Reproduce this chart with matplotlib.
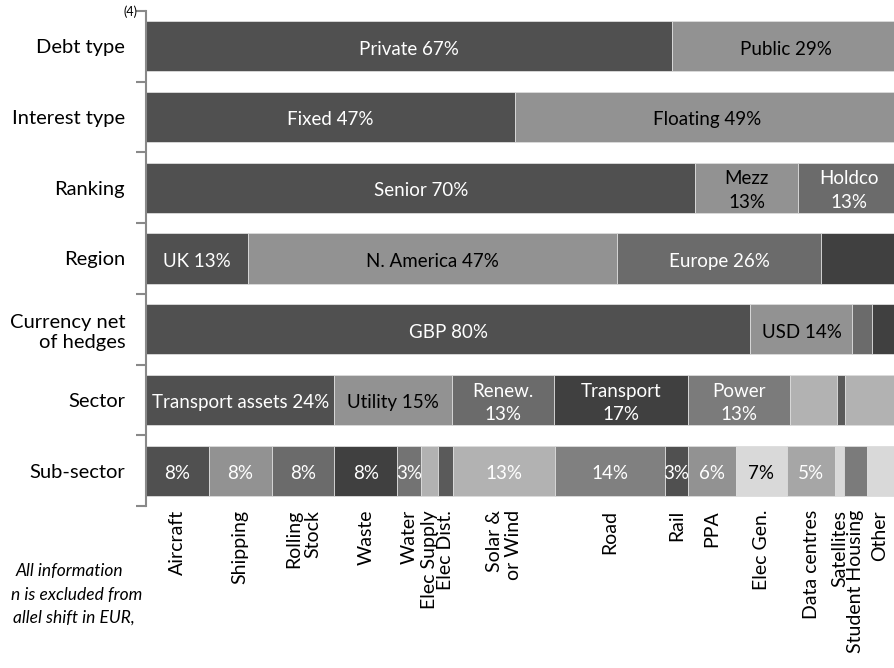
import matplotlib.pyplot as plt
import numpy as np

plt.rcParams['font.family'] = ['Lato', 'DejaVu Sans']

# rows, top to bottom
rows = ['Debt type', 'Interest type', 'Ranking', 'Region',
        'Currency net\nof hedges', 'Sector', 'Sub-sector']

debt_vals = [67, 29, 4]
debt_labels = ['Private 67%', 'Public 29%', '']

interest_vals = [47, 49, 4]
interest_labels = ['Fixed 47%', 'Floating 49%', '']

ranking_vals = [70, 13, 13, 4]
ranking_labels = ['Senior 70%', 'Mezz\n13%', 'Holdco\n13%', '']

region_vals = [13, 47, 26, 14]
region_labels = ['UK 13%', 'N. America 47%', 'Europe 26%', '']

currency_vals = [77, 13, 2.5, 7.5]
currency_labels = ['GBP 80%', 'USD 14%', '', '']

sector_vals = [24, 15, 13, 17, 13, 6, 1, 11]
sector_labels = ['Transport assets 24%', 'Utility 15%', 'Renew.\n13%', 'Transport\n17%',
                 'Power\n13%', '', '', '']

sub_vals = [8, 8, 8, 8, 3, 2.2, 1.9, 13, 14, 3, 6, 6.6, 6.1, 1.1, 3, 8]
sub_labels = ['8%', '8%', '8%', '8%', '3%', '', '', '13%', '14%', '3%', '6%', '7%', '5%', '', '', '']
sub_names = ['Aircraft', 'Shipping', 'Rolling\nStock', 'Waste', 'Water', 'Elec Supply', 'Elec Dist.',
             'Solar &\nor Wind', 'Road', 'Rail', 'PPA', 'Elec Gen.', 'Data centres', 'Satellites',
             'Student Housing', 'Other']

# styles
D, M, G, K, P, L, X = '#505050', '#929292', '#6b6b6b', '#404040', '#7b7b7b', '#b2b2b2', '#d9d9d9'
colors = [
    [D, M, G],
    [D, M, G],
    [D, M, G, K],
    [D, M, G, K],
    [D, M, G, K],
    [D, M, G, K, P, L, '#5a5a5a', L],
    [D, M, G, K, '#737373', L, '#5a5a5a', L, '#808080', D, M, X, '#a6a6a6', X, P, X],
]
text_colors = [
    ['white', 'black', 'white'],
    ['white', 'black', 'white'],
    ['white', 'black', 'white', 'white'],
    ['white', 'black', 'white', 'white'],
    ['white', 'black', 'white', 'white'],
    ['white', 'black', 'white', 'white', 'white', 'white', 'white', 'white'],
    ['white'] * 11 + ['black'] + ['white'] * 4,
]

all_vals = [debt_vals, interest_vals, ranking_vals, region_vals, currency_vals, sector_vals, sub_vals]
all_labels = [debt_labels, interest_labels, ranking_labels, region_labels, currency_labels,
              sector_labels, sub_labels]

fig = plt.figure(figsize=(8.95, 6.68), dpi=100)
ax = fig.add_axes([146 / 895, 1 - 506 / 668, 785 / 895, 495 / 668])

for i, (vals, labs) in enumerate(zip(all_vals, all_labels)):
    left = np.concatenate([[0], np.cumsum(vals)[:-1]])
    ax.barh(i, vals, left=left, height=0.71, color=colors[i], edgecolor='#dcdcdc', linewidth=0.6)
    for j, (l, v, t) in enumerate(zip(left, vals, labs)):
        if t:
            ax.text(l + v / 2, i + 0.04, t, ha='center', va='center', fontsize=13.5,
                    color=text_colors[i][j], linespacing=1.45)

ax.set_xlim(0, 100)
ax.set_ylim(6.5, -0.5)
ax.set_yticks(range(len(rows)))
ax.set_yticklabels(rows, fontsize=14.5)
ax.tick_params(axis='y', which='major', length=0, pad=15)
ax.set_yticks(np.arange(-0.5, 7, 1), minor=True)
ax.tick_params(axis='y', which='minor', length=7, width=1.5, color='#898989')
ax.set_xticks([])
for s in ['top', 'right', 'bottom']:
    ax.spines[s].set_visible(False)
ax.spines['left'].set_color('#898989')
ax.spines['left'].set_linewidth(1.5)

# sub-sector names under the chart (kept inside the visible part of the page)
sub_left = np.concatenate([[0], np.cumsum(sub_vals)[:-1]])
for l, v, n in zip(sub_left, sub_vals, sub_names):
    ax.text(min(l + v / 2, 93.5), -0.008, n, transform=ax.get_xaxis_transform(), rotation=90,
            ha='center', va='top', multialignment='right', fontsize=14, linespacing=1.15)

fig.text(131 / 895, 1 - 12 / 668, '(4)', fontsize=9, ha='center', va='center')

fig.text(123 / 895, 1 - 571 / 668, 'All information', fontsize=12.5, style='italic', ha='right', va='center')
fig.text(142 / 895, 1 - 595 / 668, 'n is excluded from', fontsize=12.5, style='italic', ha='right', va='center')
fig.text(135 / 895, 1 - 618 / 668, 'allel shift in EUR,', fontsize=12.5, style='italic', ha='right', va='center')

fig.savefig('out.png', dpi=100)
